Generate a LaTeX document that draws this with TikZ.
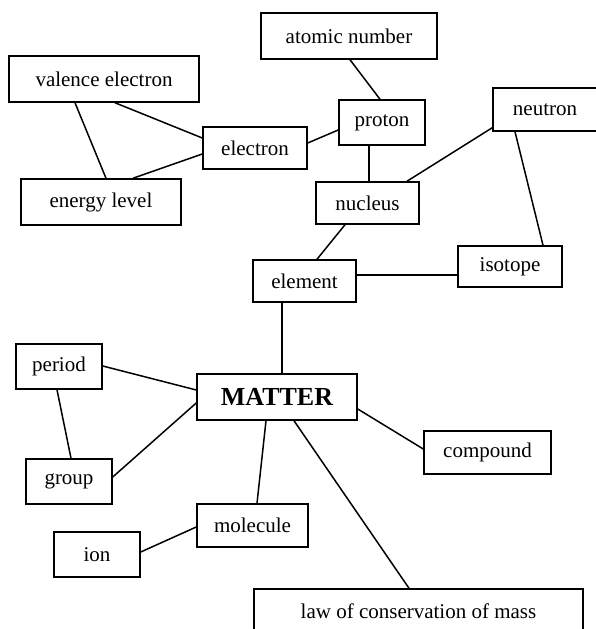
\documentclass[tikz,border=0pt]{standalone}
\usepackage{fontspec}
\setmainfont{Liberation Serif}
\begin{document}
\begin{tikzpicture}[x=1pt,y=1pt,
  box/.style={draw=black, line width=1.5pt, inner sep=0pt, fill=white,
    font=\fontsize{21}{25}\selectfont},
  link/.style={line width=1.5pt, black}]
\useasboundingbox (0,0) rectangle (595,629);
\fill[white] (0,0) rectangle (595,629);
\node[box, minimum width=176pt, minimum height=46pt] (atomic) at (349,593) {atomic number};
\node[box, minimum width=190pt, minimum height=46pt] (valence) at (104,550) {valence electron};
\node[box, minimum width=86pt, minimum height=45pt] (proton) at (382,506.5) {proton};
\node[box, minimum width=104pt, minimum height=43pt] (neutron) at (545,519.5) {neutron};
\node[box, minimum width=104pt, minimum height=42pt] (electron) at (255,481) {electron};
\node[box, minimum width=160pt, minimum height=46pt] (energy) at (101,427) {energy level};
\node[box, minimum width=103pt, minimum height=42pt] (nucleus) at (367.5,426) {nucleus};
\node[box, minimum width=104pt, minimum height=41pt] (isotope) at (510,362.5) {isotope};
\node[box, minimum width=103pt, minimum height=42pt] (element) at (304.5,348) {element};
\node[box, minimum width=86pt, minimum height=45pt] (period) at (59,262.5) {period};
\node[box, minimum width=160pt, minimum height=46pt, font=\fontsize{26}{30}\selectfont\bfseries] (matter) at (277,232) {MATTER};
\node[box, minimum width=127pt, minimum height=43pt] (compound) at (487.5,176.5) {compound};
\node[box, minimum width=86pt, minimum height=45pt] (group) at (69,147.5) {group};
\node[box, minimum width=111pt, minimum height=43pt] (molecule) at (252.5,103.5) {molecule};
\node[box, minimum width=86pt, minimum height=45pt] (ion) at (97,74.5) {ion};
\node[box, minimum width=329pt, minimum height=45pt] (law) at (418.5,17.5) {law of conservation of mass};

\draw[link] ([xshift=1pt]atomic.south) -- ([xshift=-2pt]proton.north);
\draw[link] ([yshift=5pt]electron.east) -- ([yshift=-7.5pt]proton.west);
\draw[link] ([xshift=-13pt]proton.south) -- ([xshift=1.5pt]nucleus.north);
\draw[link] ([yshift=4pt]neutron.south west) -- ([xshift=39.5pt]nucleus.north);
\draw[link] ([xshift=-30pt]neutron.south) -- ([xshift=33pt]isotope.north);
\draw[link] ([xshift=-22.5pt]nucleus.south) -- ([xshift=12.5pt]element.north);
\draw[link] ([yshift=6pt]element.east) -- ([yshift=-8.5pt]isotope.west);
\draw[link] ([xshift=11pt]valence.south) -- ([yshift=10pt]electron.west);
\draw[link] ([xshift=-29pt]valence.south) -- ([xshift=5pt]energy.north);
\draw[link] ([yshift=-6pt]electron.west) -- ([xshift=32pt]energy.north);
\draw[link] ([xshift=-22.5pt]element.south) -- ([xshift=5pt]matter.north);
\draw[link] ([yshift=0.5pt]period.east) -- ([yshift=7pt]matter.west);
\draw[link] ([xshift=-2pt]period.south) -- ([xshift=2pt]group.north);
\draw[link] ([yshift=4.5pt]group.east) -- ([yshift=-6pt]matter.west);
\draw[link] ([yshift=-12pt]matter.east) -- ([yshift=3.5pt]compound.west);
\draw[link] ([xshift=-11pt]matter.south) -- ([xshift=4.5pt]molecule.north);
\draw[link] ([xshift=17pt]matter.south) -- ([xshift=-9.5pt]law.north);
\draw[link] ([yshift=2.5pt]ion.east) -- ([yshift=-1.5pt]molecule.west);
\end{tikzpicture}
\end{document}
